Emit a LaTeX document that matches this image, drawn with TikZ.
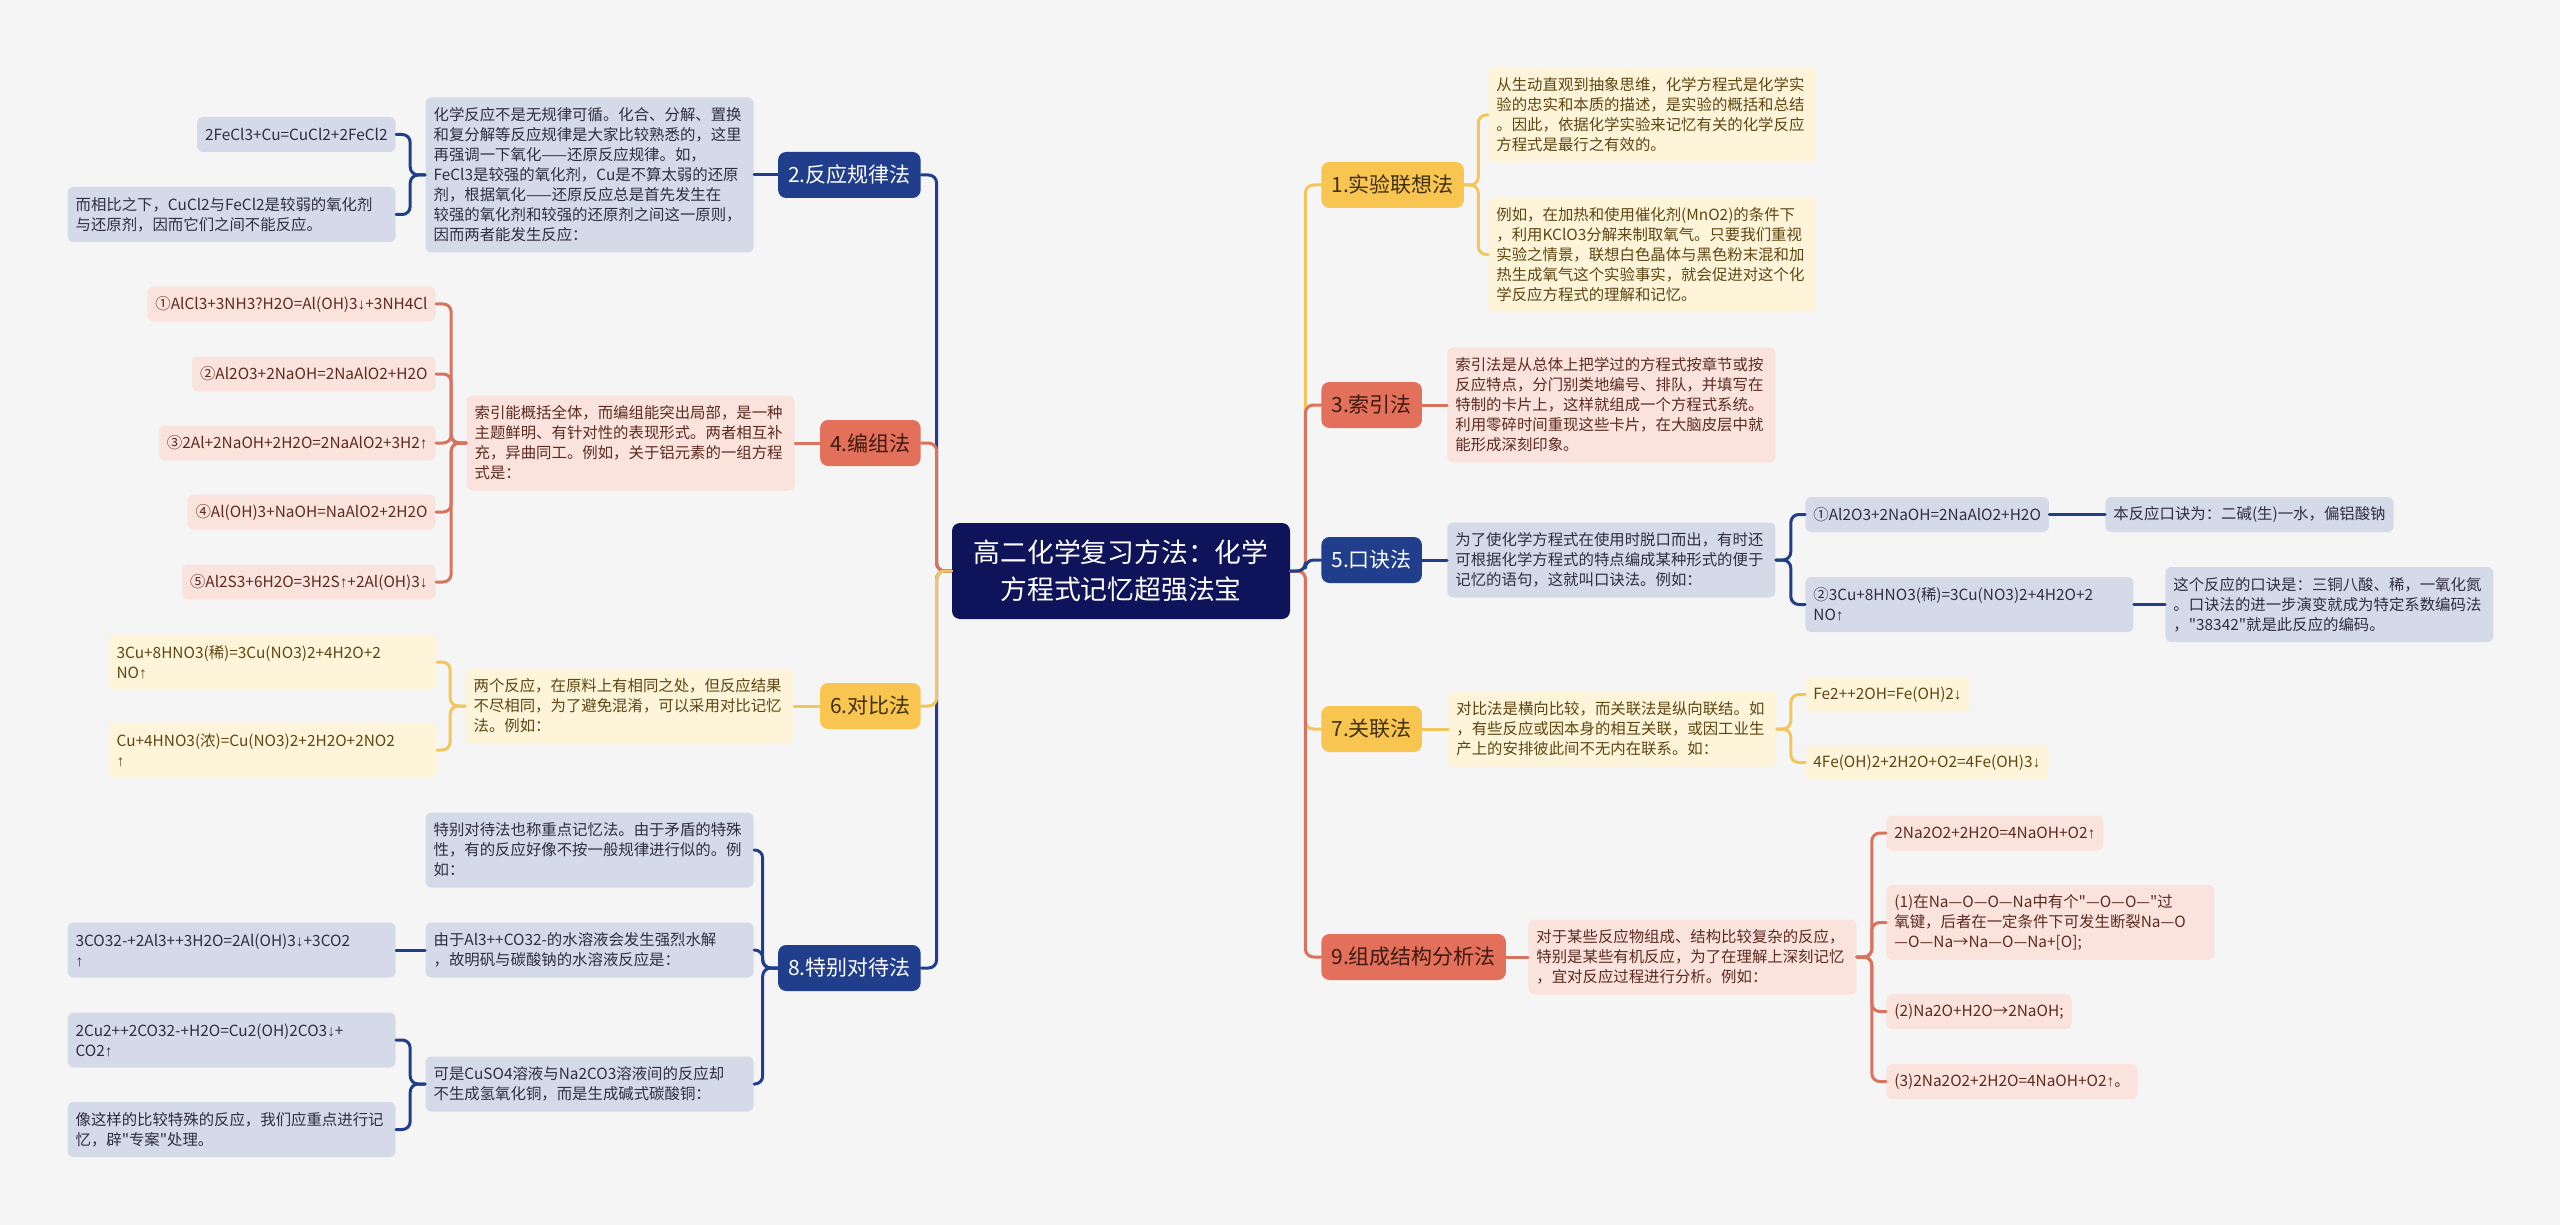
\documentclass[tikz,border=0pt]{standalone}
\usepackage{fontspec}
\setmainfont{Noto Sans CJK SC}[Ligatures=TeXOff]
\newfontfamily\arrowfont{Liberation Sans}
\newcommand\uparw{{\arrowfont ↑}}
\newcommand\dnarw{{\arrowfont ↓}}
\definecolor{bg}{HTML}{F5F5F5}
\definecolor{rootfill}{HTML}{0F145A}
\definecolor{navy}{HTML}{203E8C}
\definecolor{navyleaf}{HTML}{D5DAE9}
\definecolor{navytext}{HTML}{2E2E3E}
\definecolor{redbranch}{HTML}{E2705A}
\definecolor{redbranchtext}{HTML}{3F1A12}
\definecolor{redleaf}{HTML}{FAE3DD}
\definecolor{redtext}{HTML}{5B2A20}
\definecolor{redline}{HTML}{D9735E}
\definecolor{yellowbranch}{HTML}{F8C551}
\definecolor{yellowbranchtext}{HTML}{3F300C}
\definecolor{yellowleaf}{HTML}{FEF4D9}
\definecolor{yellowtext}{HTML}{5E4613}
\definecolor{yellowline}{HTML}{F3C65C}
\newcommand\leaffont{\fontsize{7.7}{10}\selectfont}
\newcommand\branchfont{\fontsize{10.5}{13}\selectfont}
\newcommand\rootfont{\fontsize{13.4}{18.5}\selectfont}
\tikzset{
  conn/.style={line width=1.5pt,rounded corners=4pt},
  nconn/.style={conn,draw=navy},
  rconn/.style={conn,draw=redline},
  yconn/.style={conn,draw=yellowline},
  leaf/.style={rounded corners=3pt,inner xsep=4pt,inner ysep=3pt,align=left,font=\leaffont},
  nleaf/.style={leaf,fill=navyleaf,text=navytext},
  rleaf/.style={leaf,fill=redleaf,text=redtext},
  yleaf/.style={leaf,fill=yellowleaf,text=yellowtext},
  wide/.style={text width=156pt},
  rows/.style={minimum height={7.5pt+10pt*#1}},
  branch/.style={rounded corners=4pt,inner xsep=5pt,minimum height=23pt,font=\branchfont},
  nbranch/.style={branch,fill=navy,text=white},
  rbranch/.style={branch,fill=redbranch,text=redbranchtext},
  ybranch/.style={branch,fill=yellowbranch,text=yellowbranchtext},
  rootbox/.style={rounded corners=4pt,fill=rootfill,text=white,align=center,font=\rootfont,minimum width=169pt,minimum height=48pt}
}
\begin{document}
\begin{tikzpicture}[x=0.5pt,y=-0.5pt,line join=round,line cap=round]
  % canvas, in pixels of the 2560x1225 sheet
  \fill[bg] (0,0) rectangle (2560,1225);
  \node[rootbox] (root) at (1121,571) {高二化学复习方法：化学\\方程式记忆超强法宝};
  % left branches
  \node[nbranch,anchor=east] (b2) at (921,175) {2.反应规律法};
  \node[rbranch,anchor=east] (b4) at (921,443) {4.编组法};
  \node[ybranch,anchor=east] (b6) at (921,706) {6.对比法};
  \node[nbranch,anchor=east] (b8) at (921,968) {8.特别对待法};
  % right branches
  \node[ybranch,anchor=west] (b1) at (1321,185) {1.实验联想法};
  \node[rbranch,anchor=west] (b3) at (1321,405) {3.索引法};
  \node[nbranch,anchor=west] (b5) at (1321,560) {5.口诀法};
  \node[ybranch,anchor=west] (b7) at (1321,729) {7.关联法};
  \node[rbranch,anchor=west] (b9) at (1321,957) {9.组成结构分析法};
  % 2. reaction rules
  \node[nleaf,wide,rows=7,anchor=east] (r2) at (754,175) {化学反应不是无规律可循。化合、分解、置换\\和复分解等反应规律是大家比较熟悉的，这里\\再强调一下氧化——还原反应规律。如，\\FeCl3是较强的氧化剂，Cu是不算太弱的还原\\剂，根据氧化——还原反应总是首先发生在\\较强的氧化剂和较强的还原剂之间这一原则，\\因而两者能发生反应：};
  \node[nleaf,rows=1,anchor=east] (r2a) at (396,134.5) {2FeCl3+Cu=CuCl2+2FeCl2};
  \node[nleaf,wide,rows=2,anchor=east] (r2b) at (396,214.5) {而相比之下，CuCl2与FeCl2是较弱的氧化剂\\与还原剂，因而它们之间不能反应。};
  % 4. grouping
  \node[rleaf,wide,rows=4,anchor=east] (g4) at (795,443) {索引能概括全体，而编组能突出局部，是一种\\主题鲜明、有针对性的表现形式。两者相互补\\充，异曲同工。例如，关于铝元素的一组方程\\式是：};
  \node[rleaf,rows=1,anchor=east] (g4a) at (436,304) {①AlCl3+3NH3?H2O=Al(OH)3\dnarw+3NH4Cl};
  \node[rleaf,rows=1,anchor=east] (g4b) at (436,374) {②Al2O3+2NaOH=2NaAlO2+H2O};
  \node[rleaf,rows=1,anchor=east] (g4c) at (436,443) {③2Al+2NaOH+2H2O=2NaAlO2+3H2\uparw};
  \node[rleaf,rows=1,anchor=east] (g4d) at (436,512) {④Al(OH)3+NaOH=NaAlO2+2H2O};
  \node[rleaf,rows=1,anchor=east] (g4e) at (436,582) {⑤Al2S3+6H2O=3H2S\uparw+2Al(OH)3\dnarw};
  % 6. contrast
  \node[yleaf,wide,rows=3,anchor=east] (c6) at (794,706) {两个反应，在原料上有相同之处，但反应结果\\不尽相同，为了避免混淆，可以采用对比记忆\\法。例如：};
  \node[yleaf,wide,rows=2,anchor=east] (c6a) at (437,662) {3Cu+8HNO3(稀)=3Cu(NO3)2+4H2O+2\\NO\uparw};
  \node[yleaf,wide,rows=2,anchor=east] (c6b) at (437,750) {Cu+4HNO3(浓)=Cu(NO3)2+2H2O+2NO2\\\uparw};
  % 8. special cases
  \node[nleaf,wide,rows=3,anchor=east] (s8a) at (754,850) {特别对待法也称重点记忆法。由于矛盾的特殊\\性，有的反应好像不按一般规律进行似的。例\\如：};
  \node[nleaf,wide,rows=2,anchor=east] (s8b) at (754,950) {由于Al3++CO32-的水溶液会发生强烈水解\\，故明矾与碳酸钠的水溶液反应是：};
  \node[nleaf,wide,rows=2,anchor=east] (s8c) at (754,1084) {可是CuSO4溶液与Na2CO3溶液间的反应却\\不生成氢氧化铜，而是生成碱式碳酸铜：};
  \node[nleaf,wide,rows=2,anchor=east] (s8b1) at (396,950) {3CO32-+2Al3++3H2O=2Al(OH)3\dnarw+3CO2\\\uparw};
  \node[nleaf,wide,rows=2,anchor=east] (s8c1) at (396,1040) {2Cu2++2CO32-+H2O=Cu2(OH)2CO3\dnarw+\\CO2\uparw};
  \node[nleaf,wide,rows=2,anchor=east] (s8c2) at (396,1129.5) {像这样的比较特殊的反应，我们应重点进行记\\忆，辟"专案"处理。};
  % 1. experiments
  \node[yleaf,wide,rows=4,anchor=west] (e1a) at (1488,115) {从生动直观到抽象思维，化学方程式是化学实\\验的忠实和本质的描述，是实验的概括和总结\\。因此，依据化学实验来记忆有关的化学反应\\方程式是最行之有效的。};
  \node[yleaf,wide,rows=5,anchor=west] (e1b) at (1488,254.5) {例如，在加热和使用催化剂(MnO2)的条件下\\，利用KClO3分解来制取氧气。只要我们重视\\实验之情景，联想白色晶体与黑色粉末混和加\\热生成氧气这个实验事实，就会促进对这个化\\学反应方程式的理解和记忆。};
  % 3. index
  \node[rleaf,wide,rows=5,anchor=west] (i3) at (1447,405) {索引法是从总体上把学过的方程式按章节或按\\反应特点，分门别类地编号、排队，并填写在\\特制的卡片上，这样就组成一个方程式系统。\\利用零碎时间重现这些卡片，在大脑皮层中就\\能形成深刻印象。};
  % 5. rhymes
  \node[nleaf,wide,rows=3,anchor=west] (k5) at (1447,560) {为了使化学方程式在使用时脱口而出，有时还\\可根据化学方程式的特点编成某种形式的便于\\记忆的语句，这就叫口诀法。例如：};
  \node[nleaf,rows=1,anchor=west] (k5a) at (1805,514.5) {①Al2O3+2NaOH=2NaAlO2+H2O};
  \node[nleaf,rows=1,anchor=west] (k5a1) at (2105,514.5) {本反应口诀为：二碱(生)一水，偏铝酸钠};
  \node[nleaf,wide,rows=2,anchor=west] (k5b) at (1805,604.5) {②3Cu+8HNO3(稀)=3Cu(NO3)2+4H2O+2\\NO\uparw};
  \node[nleaf,wide,rows=3,anchor=west] (k5b1) at (2165,604.5) {这个反应的口诀是：三铜八酸、稀，一氧化氮\\。口诀法的进一步演变就成为特定系数编码法\\，"38342"就是此反应的编码。};
  % 7. association
  \node[yleaf,wide,rows=3,anchor=west] (a7) at (1448,729) {对比法是横向比较，而关联法是纵向联结。如\\，有些反应或因本身的相互关联，或因工业生\\产上的安排彼此间不无内在联系。如：};
  \node[yleaf,rows=1,anchor=west] (a7a) at (1805,694.5) {Fe2++2OH=Fe(OH)2\dnarw};
  \node[yleaf,rows=1,anchor=west] (a7b) at (1805,762.5) {4Fe(OH)2+2H2O+O2=4Fe(OH)3\dnarw};
  % 9. structure analysis
  \node[rleaf,wide,rows=3,anchor=west] (z9) at (1528,957) {对于某些反应物组成、结构比较复杂的反应，\\特别是某些有机反应，为了在理解上深刻记忆\\，宜对反应过程进行分析。例如：};
  \node[rleaf,rows=1,anchor=west] (z9a) at (1886,833) {2Na2O2+2H2O=4NaOH+O2\uparw};
  \node[rleaf,wide,rows=3,anchor=west] (z9b) at (1886,922.5) {(1)在Na—O—O—Na中有个"—O—O—"过\\氧键，后者在一定条件下可发生断裂Na—O\\—O—Na→Na—O—Na+[O];};
  \node[rleaf,rows=1,anchor=west] (z9c) at (1886,1011.5) {(2)Na2O+H2O→2NaOH;};
  \node[rleaf,rows=1,anchor=west] (z9d) at (1886,1081.5) {(3)2Na2O2+2H2O=4NaOH+O2\uparw。};
  % root to branches
  \foreach \b in {b2,b8} \draw[nconn] (root.west) -- ++(-15,0) |- (\b.east);
  \draw[rconn] (root.west) -- ++(-15,0) |- (b4.east);
  \draw[yconn] (root.west) -- ++(-15,0) |- (b6.east);
  \foreach \b in {b1,b7} \draw[yconn] (root.east) -- ++(15,0) |- (\b.west);
  \foreach \b in {b3,b9} \draw[rconn] (root.east) -- ++(15,0) |- (\b.west);
  \draw[nconn] (root.east) -- ++(15,0) |- (b5.west);
  % left side leaves
  \draw[nconn] (b2.west) -- (r2.east);
  \foreach \l in {r2a,r2b} \draw[nconn] (r2.west) -- ++(-15,0) |- (\l.east);
  \draw[rconn] (b4.west) -- (g4.east);
  \foreach \l in {g4a,g4b,g4c,g4d,g4e} \draw[rconn] (g4.west) -- ++(-15,0) |- (\l.east);
  \draw[yconn] (b6.west) -- (c6.east);
  \foreach \l in {c6a,c6b} \draw[yconn] (c6.west) -- ++(-15,0) |- (\l.east);
  \foreach \l in {s8a,s8b,s8c} \draw[nconn] (b8.west) -- ++(-15,0) |- (\l.east);
  \draw[nconn] (s8b.west) -- (s8b1.east);
  \foreach \l in {s8c1,s8c2} \draw[nconn] (s8c.west) -- ++(-15,0) |- (\l.east);
  % right side leaves
  \foreach \l in {e1a,e1b} \draw[yconn] (b1.east) -- ++(14,0) |- (\l.west);
  \draw[rconn] (b3.east) -- (i3.west);
  \draw[nconn] (b5.east) -- (k5.west);
  \foreach \l in {k5a,k5b} \draw[nconn] (k5.east) -- ++(15,0) |- (\l.west);
  \draw[nconn] (k5a.east) -- (k5a1.west);
  \draw[nconn] (k5b.east) -- (k5b1.west);
  \draw[yconn] (b7.east) -- (a7.west);
  \foreach \l in {a7a,a7b} \draw[yconn] (a7.east) -- ++(14,0) |- (\l.west);
  \draw[rconn] (b9.east) -- (z9.west);
  \foreach \l in {z9a,z9b,z9c,z9d} \draw[rconn] (z9.east) -- ++(15,0) |- (\l.west);
\end{tikzpicture}
\end{document}
